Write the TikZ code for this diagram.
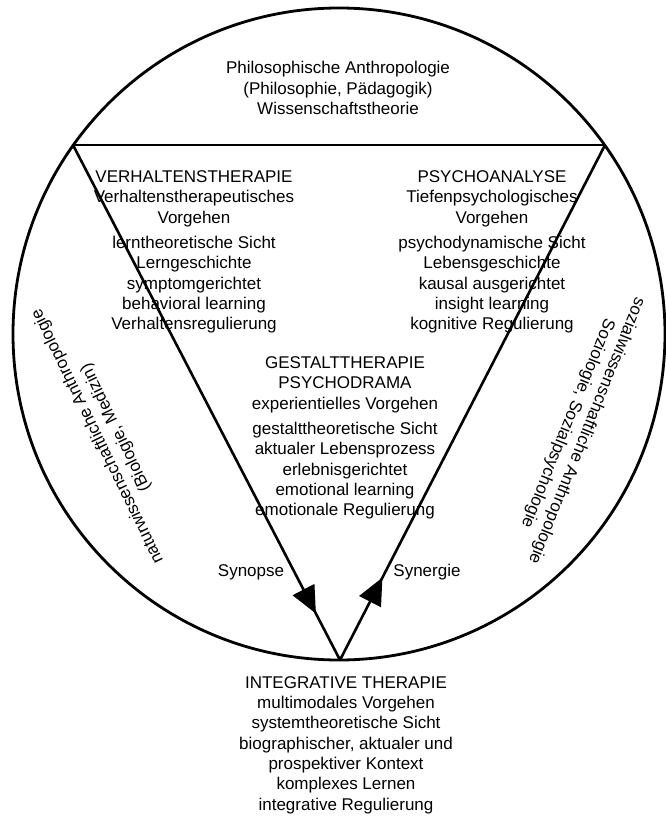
\documentclass[tikz,border=0pt]{standalone}
\usepackage{fontspec}
\setmainfont{Liberation Sans}
\usetikzlibrary{arrows.meta,decorations.markings}
\begin{document}
\begin{tikzpicture}[x=1pt,y=-1pt,
  lbl/.style={font=\fontsize{17}{20.3}\selectfont, align=center, inner sep=0pt},
  edge/.style={line width=2.6pt},
  headmark/.style={postaction={decorate}, decoration={markings,
     mark=at position #1 with {\arrow{Triangle[length=27pt,width=24pt]}}}}]
\useasboundingbox (0,0) rectangle (665,816);
\draw[line width=2.8pt] (339,334) ellipse [x radius=326, y radius=326];
\coordinate (tl) at (73,145);
\coordinate (tr) at (605,145);
\coordinate (apex) at (340,660);
\draw[edge] (tl) -- (tr);
\draw[edge, headmark=0.91] (tl) -- (apex);
\draw[edge, headmark=0.16] (apex) -- (tr);

\node[lbl] (top) at (338,88) {Philosophische Anthropologie\\(Philosophie, Pädagogik)\\Wissenschaftstheorie};

\node[lbl] (vt) at (194,252) {VERHALTENSTHERAPIE\\Verhaltenstherapeutisches\\Vorgehen\\[5pt]lerntheoretische Sicht\\Lerngeschichte\\symptomgerichtet\\behavioral learning\\Verhaltensregulierung};

\node[lbl] (pa) at (492,252) {PSYCHOANALYSE\\Tiefenpsychologisches\\Vorgehen\\[5pt]psychodynamische Sicht\\Lebensgeschichte\\kausal ausgerichtet\\insight learning\\kognitive Regulierung};

\node[lbl] (gt) at (345,438) {GESTALTTHERAPIE\\PSYCHODRAMA\\experientielles Vorgehen\\[5pt]gestalttheoretische Sicht\\aktualer Lebensprozess\\erlebnisgerichtet\\emotional learning\\emotionale Regulierung};

\node[lbl] (it) at (346,745) {INTEGRATIVE THERAPIE\\multimodales Vorgehen\\systemtheoretische Sicht\\biographischer, aktualer und\\prospektiver Kontext\\komplexes Lernen\\integrative Regulierung};

\node[lbl, rotate=116] (nat) at (107,432) {naturwissenschaftliche Anthropologie\\(Biologie, Medizin)};
\node[lbl, rotate=-112] (soz) at (577,427) {sozialwissenschaftliche Anthropologie\\Soziologie, Sozialpsychologie};

\node[lbl] (syno) at (251,572) {Synopse};
\node[lbl] (syne) at (427,572) {Synergie};
\end{tikzpicture}
\end{document}
